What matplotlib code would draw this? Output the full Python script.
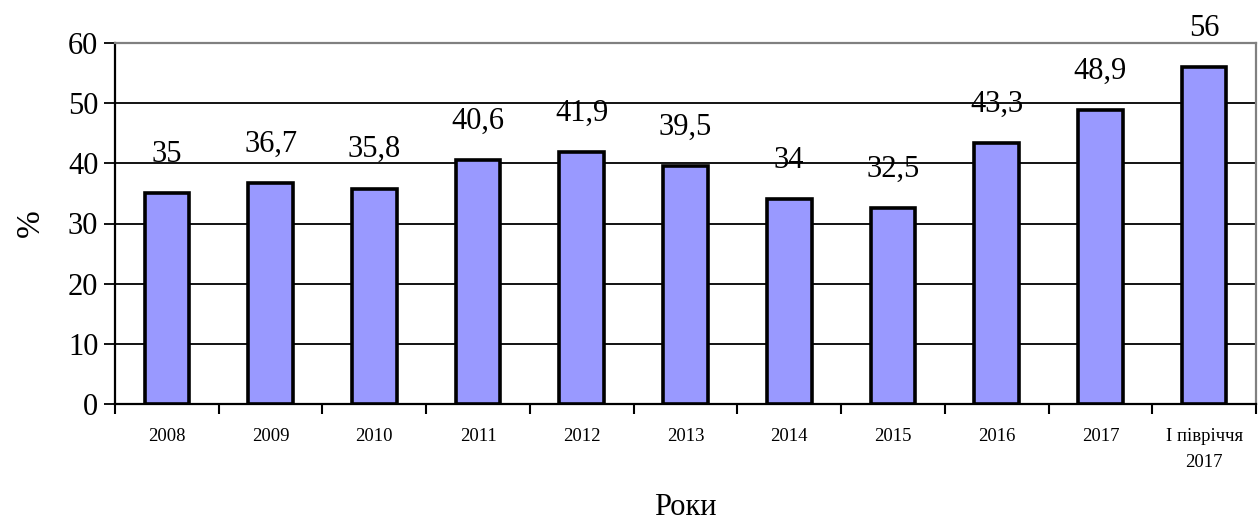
import matplotlib
matplotlib.use("Agg")
import matplotlib.pyplot as plt
import numpy as np

categories = ["2008", "2009", "2010", "2011", "2012", "2013", "2014", "2015",
              "2016", "2017", "І півріччя\n2017"]
values = [35, 36.7, 35.8, 40.6, 41.9, 39.5, 34, 32.5, 43.3, 48.9, 56]
value_labels = ["35", "36,7", "35,8", "40,6", "41,9", "39,5", "34", "32,5",
                "43,3", "48,9", "56"]
y_ticks = [0, 10, 20, 30, 40, 50, 60]

plt.rcParams['font.family'] = ['Liberation Serif', 'DejaVu Serif']

fig = plt.figure(figsize=(12.59, 5.26), dpi=100)
ax = fig.add_axes([115/1259, 1-404/526, (1256-115)/1259, (404-43)/526])

x = np.arange(len(categories))
ax.bar(x, values, width=0.43, color="#9999FF", edgecolor="black", linewidth=2.6, zorder=3)

for xi, v, lab in zip(x, values, value_labels):
    ax.annotate(lab, (xi, v), xytext=(0, 28), textcoords="offset points",
                ha="center", va="center", fontsize=22, zorder=4)

ax.set_xlim(-0.5, len(categories) - 0.5)
ax.set_ylim(0, 60)
ax.set_yticks(y_ticks)
ax.tick_params(axis="y", labelsize=22, length=8, width=1.3, direction="out", pad=4)
ax.yaxis.grid(True, color="black", linewidth=1.3, zorder=0)
ax.set_axisbelow(True)

ax.set_xticks(x)
ax.set_xticklabels(categories, fontsize=13.5, linespacing=1.7)
ax.tick_params(axis="x", length=0, pad=17)
ax.set_xticks(np.arange(-0.5, len(categories)), minor=True)
ax.tick_params(axis="x", which="minor", length=7, width=1.5, direction="out")

for s in ["left", "bottom"]:
    ax.spines[s].set_color("black")
    ax.spines[s].set_linewidth(1.6)
for s in ["top", "right"]:
    ax.spines[s].set_color("#808080")
    ax.spines[s].set_linewidth(1.6)

ax.set_ylabel("%", fontsize=24, labelpad=16)
ax.set_xlabel("Роки", fontsize=22, labelpad=16)

fig.savefig("out.png", dpi=100)
